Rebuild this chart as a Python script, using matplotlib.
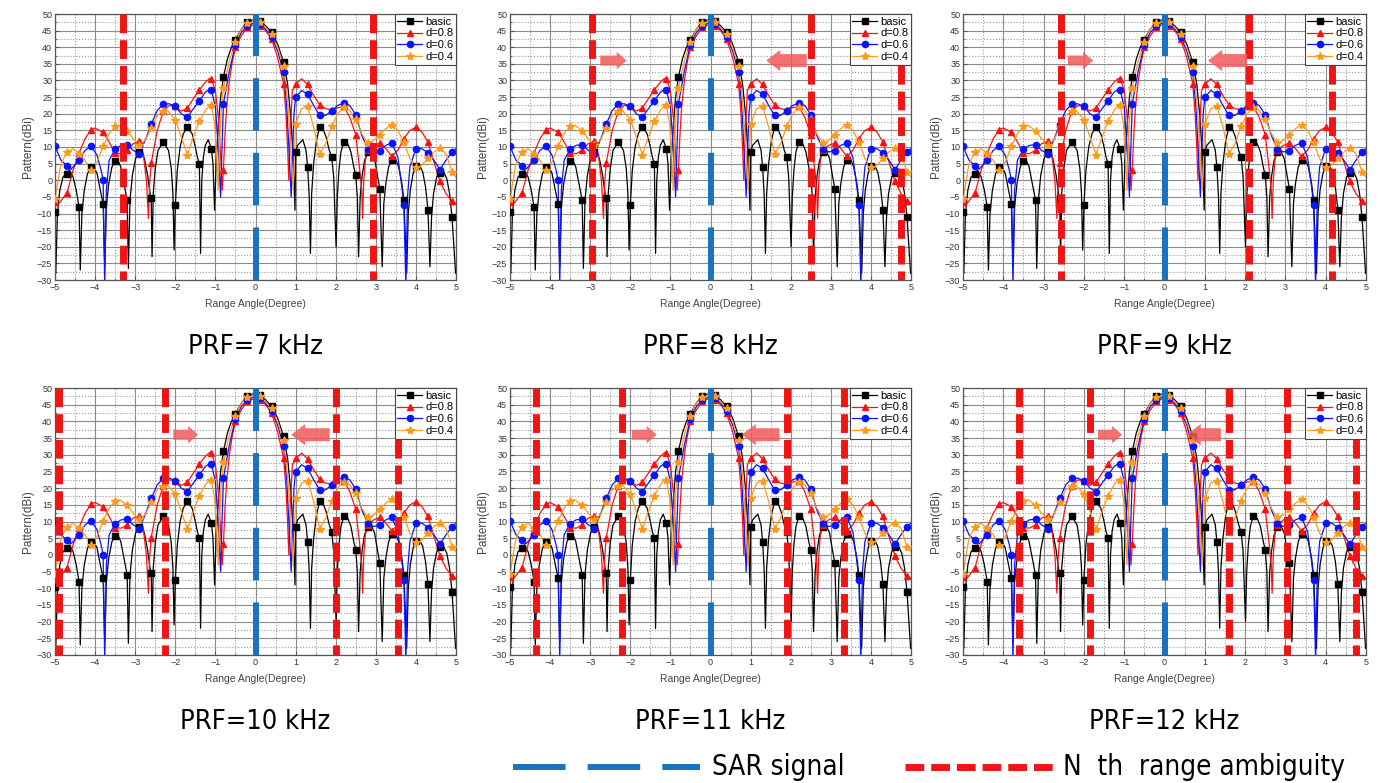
import numpy as np
import matplotlib.pyplot as plt
from matplotlib.lines import Line2D
from matplotlib.patches import FancyArrow
from matplotlib.ticker import MultipleLocator

#%% data
# marker positions (every 0.3 deg)
mark_x = [-5.0, -4.7, -4.4, -4.1, -3.8, -3.5, -3.2, -2.9, -2.6, -2.3, -2.0, -1.7,
          -1.4, -1.1, -0.8, -0.5, -0.2, 0.1, 0.4, 0.7, 1.0, 1.3, 1.6, 1.9, 2.2,
          2.5, 2.8, 3.1, 3.4, 3.7, 4.0, 4.3, 4.6, 4.9]

basic_mark = [-9.5, 2.0, -8.0, 4.0, -7.0, 5.8, -6.0, 8.5, -5.3, 11.5, -7.5, 16.0,
              5.0, 9.5, 31.0, 42.3, 47.6, 47.8, 44.5, 35.5, 8.5, 4.0, 16.0, 7.0,
              11.5, 1.5, 8.5, -2.5, 6.2, -6.0, 4.2, -8.8, 2.3, -11.0]
d08_mark = [-6.5, -3.8, 8.2, 15.2, 14.4, 8.2, 9.0, 11.7, 5.2, 20.7, 22.2, 21.7,
            27.2, 30.5, 3.2, 40.0, 46.0, 46.5, 42.5, 29.0, 28.9, 28.8, 22.7, 21.2,
            22.2, 13.7, 9.0, 11.2, 7.2, 12.5, 15.9, 11.5, -0.3, -6.3]
d06_mark = [10.2, 4.4, 6.0, 10.2, 0.0, 9.4, 10.7, 7.9, 16.9, 22.9, 22.2, 18.9,
            23.9, 27.2, 23.0, 40.8, 46.5, 47.0, 43.0, 32.5, 24.9, 25.9, 19.5, 20.9,
            23.2, 19.7, 9.5, 8.9, 11.2, -7.4, 9.5, 8.2, 3.2, 8.5]
d04_mark = [-5.6, 8.5, 8.0, 3.0, 10.2, 16.2, 14.9, 10.7, 15.7, 20.7, 18.2, 7.7,
            17.7, 22.5, 27.7, 41.7, 47.2, 47.5, 44.0, 34.3, 16.9, 22.2, 7.9, 16.2,
            21.9, 18.4, 11.2, 13.7, 16.7, 11.4, 3.9, 6.7, 9.7, 2.5]

# extra curve points between the markers (nulls, peaks, slopes)
basic_x = [-4.98, -4.94, -4.88, -4.80, -4.64, -4.55, -4.47, -4.37,
           -4.33, -4.27, -4.19, -4.05, -3.95, -3.87, -3.76,
           -3.72, -3.66, -3.58, -3.45, -3.36, -3.28, -3.17,
           -3.13, -3.07, -2.99, -2.86, -2.77, -2.69, -2.63, -2.58,
           -2.55, -2.50, -2.43, -2.17, -2.10, -2.06, -2.03,
           -1.95, -1.88, -1.80, -1.58, -1.50, -1.45, -1.37,
           -1.34, -1.30, -1.25, -1.18, -1.06, -1.02,
           -0.98, -0.93, -0.87, -0.70, -0.60, -0.35, -0.05, 0.25, 0.55, 0.80, 0.88, 0.94, 0.985,
           1.05, 1.18, 1.26, 1.34, 1.37,
           1.40, 1.45, 1.52, 1.68, 1.76, 1.84, 1.95, 2.01,
           2.04, 2.08, 2.13, 2.30, 2.38, 2.45, 2.54, 2.57,
           2.61, 2.66, 2.72, 2.88, 2.97, 3.04, 3.16,
           3.20, 3.25, 3.32, 3.48, 3.57, 3.65, 3.77,
           3.81, 3.86, 3.93, 4.08, 4.17, 4.24, 4.35,
           4.39, 4.44, 4.52, 4.68, 4.77, 4.84, 4.99]
basic_y = [-28, -10, -3, 1, 3, 1, -3, -27,
           -10, -3, 2, 4.5, 2, -3, -26,
           -8, -1, 4, 6.5, 4, -1, -26.5,
           -6, 1.5, 6.5, 9, 6.5, 1.5, -4, -23,
           -4, 3.5, 9, 9, 3.5, -4, -21,
           3, 10, 14, 14, 10, 7, -22,
           0, 7, 10.5, 12.2, 5, -9,
           6, 16, 25, 36.5, 40, 45.5, 48.3, 46.5, 41, 29, 19, 7, -9,
           10.5, 12.2, 9, -5, -22,
           -4, 5, 12, 15.5, 13, 9, 1, -20,
           -5, 3, 8.5, 11, 8.5, 4, -5, -23,
           -5, 1.5, 6, 9, 6.5, 1.5, -26,
           -7, -1, 4, 6.7, 4, -1, -28,
           -10, -3, 2, 4.8, 2.5, -2, -26,
           -11, -4, 1, 2.8, 0.5, -4, -28]

d08_x = [-4.9, -4.55, -4.25, -4.0, -3.65, -3.35, -3.05, -2.8, -2.72, -2.67, -2.64,
         -2.45, -2.15, -1.85, -1.55, -1.25, -1.15, -1.0, -0.92, -0.86, -0.83,
         -0.76, -0.72, -0.65, -0.58, -0.35, -0.05, 0.25, 0.55, 0.76, 0.80, 0.83,
         0.87, 0.92, 1.15, 1.45, 1.75, 2.05, 2.35, 2.6, 2.65, 2.67, 2.7, 2.74,
         2.95, 3.25, 3.55, 3.85, 4.15, 4.45, 4.75, 5.0]
d08_y = [-7, 3, 12.5, 15.7, 11.5, 8, 11, 8, 0, -11.5, -1,
         15, 22.5, 20.8, 24.5, 29.5, 30.6, 27, 18, 5, -3,
         14, 22, 30, 35.5, 43.5, 46.8, 45, 37, 20, 10, 0,
         15, 27, 30.5, 25.5, 21.5, 21.8, 19, 3, -3, -11.5, 0, 6,
         10.5, 9.5, 9, 15, 14.5, 5.5, -4, -7]

d06_x = [-4.85, -4.6, -4.25, -3.95, -3.85, -3.76, -3.72, -3.65, -3.35, -3.05, -2.75,
         -2.45, -2.15, -1.85, -1.55, -1.25, -1.15, -1.0, -0.93, -0.87, -0.84,
         -0.65, -0.35, -0.05, 0.25, 0.55, 0.78, 0.84, 0.89, 0.93, 0.96, 1.15,
         1.45, 1.75, 2.05, 2.35, 2.65, 2.95, 3.25, 3.55, 3.65, 3.75, 3.79, 3.85,
         4.15, 4.45, 4.75, 5.0]
d06_y = [6, 3.3, 9, 7.5, 3, -32, -3, 6, 10.5, 9, 12,
         21, 23, 20, 21.5, 26.5, 27.3, 22, 10, -5, 8,
         33, 44.5, 47.3, 45.5, 39, 22, 8, -5, 10, 20, 27,
         22.5, 19.5, 22.5, 22.5, 13.5, 8.5, 10.5, 7, -2, -32, -5, 4,
         9.5, 6, 6, 9.5]

d04_x = [-4.85, -4.55, -4.25, -3.95, -3.65, -3.38, -3.05, -2.75, -2.45, -2.2,
         -1.85, -1.55, -1.25, -1.15, -1.02, -0.97, -0.93, -0.9, -0.86, -0.65,
         -0.35, -0.05, 0.25, 0.55, 0.8, 0.87, 0.94, 0.97, 1.15, 1.45, 1.75,
         2.05, 2.35, 2.65, 2.95, 3.25, 3.55, 3.85, 4.15, 4.45, 4.75, 5.0]
d04_y = [5, 9.5, 6, 5.5, 14, 16.5, 12.5, 12, 19.5, 21,
         13, 13, 21, 22.5, 17, 8, -3, 10, 20, 36,
         45.5, 48, 46, 40, 24, 12, -3, 8, 21.5, 16, 11,
         20, 21, 14, 12, 15.5, 15, 6.5, 4.5, 8.5, 8, 1]

# range ambiguity positions (deg) per PRF
prf_labels = ['PRF=7 kHz', 'PRF=8 kHz', 'PRF=9 kHz',
              'PRF=10 kHz', 'PRF=11 kHz', 'PRF=12 kHz']
ambig = [[-3.3, 2.92],
         [-2.96, 2.5, 4.76],
         [-2.56, 2.1, 4.15],
         [-4.89, -2.26, 2.0, 3.56],
         [-4.35, -2.2, 1.9, 3.34],
         [-3.6, -1.85, 1.6, 3.05, 4.75]]
# arrows: (tail, tip) of right-pointing and left-pointing arrow
arrow_r = [None, (-2.75, -2.09), (-2.4, -1.77), (-2.05, -1.43), (-1.96, -1.34), (-1.65, -1.05)]
arrow_l = [None, (2.40, 1.39), (2.05, 1.08), (1.85, 0.89), (1.72, 0.78), (1.40, 0.55)]

#%%
series = [('basic', basic_mark, basic_x, basic_y, 'black', 's', 4.0),
          ('d=0.8', d08_mark, d08_x, d08_y, '#ff1010', '^', 4.5),
          ('d=0.6', d06_mark, d06_x, d06_y, '#0a14ff', 'o', 4.5),
          ('d=0.4', d04_mark, d04_x, d04_y, '#ff9a1a', '*', 6.0)]

W, H = 1389, 783
fig = plt.figure(figsize=(W / 100, H / 100), dpi=100)
cols = [(55, 401), (510, 401), (963, 403)]
rows = [(14, 280), (388, 655)]

title_font = ['Liberation Sans Narrow', 'DejaVu Sans']
tick_font = ['Liberation Sans', 'DejaVu Sans']

for i in range(6):
    r, c = divmod(i, 3)
    l, w = cols[c]
    t, b = rows[r]
    ax = fig.add_axes([l / W, 1 - b / H, w / W, (b - t) / H])

    for name, mk, ex, ey, col, m, ms in series:
        xs = np.array(mark_x + ex)
        ys = np.array(mk + ey)
        o = np.argsort(xs, kind='stable')
        ax.plot(xs[o], ys[o], color=col, lw=0.9, zorder=2)
        ax.plot(mark_x, mk, ls='none', marker=m, ms=ms, color=col, zorder=3)

    # SAR signal
    ax.plot([0, 0], [-30, 50], color='#1874c0', lw=4.3, dashes=(8.8, 3.7), zorder=5)
    # range ambiguities
    for a in ambig[i]:
        ax.plot([a, a], [50, -30], color='#f01414', lw=5, dashes=(2.7, 1.0), zorder=5)

    if arrow_r[i] is not None:
        x0, x1 = arrow_r[i]
        ax.add_patch(FancyArrow(x0, 36, x1 - x0, 0, width=3.0, head_width=5.2,
                                head_length=0.25, length_includes_head=True,
                                color='#f25a5a', alpha=0.85, lw=0, zorder=6))
        x0, x1 = arrow_l[i]
        ax.add_patch(FancyArrow(x0, 36, x1 - x0, 0, width=3.9, head_width=6.4,
                                head_length=0.35, length_includes_head=True,
                                color='#f25a5a', alpha=0.85, lw=0, zorder=6))

    ax.set_xlim(-5, 5)
    ax.set_ylim(-30, 50)
    ax.xaxis.set_major_locator(MultipleLocator(1))
    ax.xaxis.set_minor_locator(MultipleLocator(0.5))
    ax.yaxis.set_major_locator(MultipleLocator(5))
    ax.yaxis.set_minor_locator(MultipleLocator(2.5))
    ax.grid(which='major', color='#8a8a8a', lw=0.8, ls='-', zorder=0)
    ax.grid(which='minor', color='#9a9a9a', lw=0.8, ls=':', zorder=0)
    ax.set_axisbelow(True)
    ax.tick_params(which='both', direction='in', labelsize=6.5, labelcolor='#333333',
                   color='#555555', pad=2)
    ax.tick_params(which='major', length=3)
    ax.tick_params(which='minor', length=1.5)
    for lab in ax.get_xticklabels() + ax.get_yticklabels():
        lab.set_family(tick_font)
    for s in ax.spines.values():
        s.set_color('#555555')
        s.set_linewidth(0.9)

    ax.set_xlabel('Range Angle(Degree)', fontsize=7.5, color='#444444',
                  family=tick_font, labelpad=5)
    ax.set_ylabel('Pattern(dBi)', fontsize=8.5, color='#444444',
                  family=tick_font, labelpad=2)
    ax.text(0.5, -0.252, prf_labels[i], transform=ax.transAxes, ha='center',
            va='center', fontsize=19.5, family=title_font, stretch='condensed')

    handles = [Line2D([], [], color=col, marker=m, ms=ms, lw=0.9)
               for name, mk, ex, ey, col, m, ms in series]
    leg = ax.legend(handles, [s[0] for s in series], loc='upper right',
                    bbox_to_anchor=(1, 1), borderaxespad=0,
                    handlelength=2.2, handletextpad=0.3, labelspacing=0.15,
                    borderpad=0.25, fancybox=False, framealpha=1,
                    edgecolor='#444444', prop={'family': tick_font, 'size': 8})
    leg.get_frame().set_linewidth(0.8)
    leg.set_zorder(10)

# bottom legend
fig.add_artist(Line2D([513 / W, 700 / W], [1 - 767 / H, 1 - 767 / H],
                      color='#1874c0', lw=4.3, dashes=(8.8, 3.7)))
fig.text(712 / W, 1 - 767 / H, 'SAR signal', fontsize=20, family=title_font,
         stretch='condensed', va='center', ha='left')
fig.add_artist(Line2D([905 / W, 1055 / W], [1 - 767 / H, 1 - 767 / H],
                      color='#f01414', lw=5, dashes=(2.7, 1.0)))
fig.text(1063 / W, 1 - 767 / H, 'N  th  range ambiguity', fontsize=20,
         family=title_font, stretch='condensed', va='center', ha='left')

fig.savefig('out.png', dpi=100)
